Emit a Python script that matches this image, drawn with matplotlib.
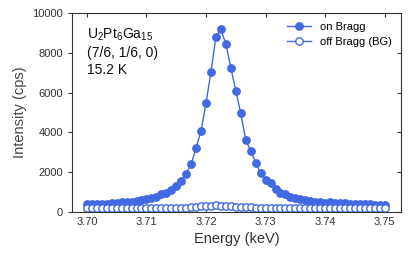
import numpy as np
import matplotlib.pyplot as plt

plt.rcParams['font.family'] = ['Liberation Sans', 'DejaVu Sans']
plt.rcParams['mathtext.default'] = 'regular'

# energy grid of the scan (keV), 61 points 3.70 -> 3.75
energy = np.linspace(3.70, 3.75, 61)

# on Bragg intensity (cps)
on_bragg = [420, 390, 400, 410, 420, 440, 460, 480, 500, 520,
            550, 590, 640, 700, 769, 889, 970, 1105, 1322, 1558,
            1925, 2397, 3231, 4070, 5462, 7050, 8810, 9180, 8442, 7250,
            6095, 4960, 3618, 3080, 2477, 1945, 1608, 1442, 1141, 970,
            889, 769, 719, 653, 603, 538, 503, 487, 470, 480,
            460, 440, 430, 420, 410, 400, 390, 380, 370, 370,
            360]

# off Bragg (background) intensity (cps)
off_bragg = [200, 190, 190, 190, 190, 190, 190, 190, 190, 190,
             190, 195, 195, 195, 195, 195, 200, 200, 200, 200,
             210, 230, 260, 290, 310, 320, 330, 320, 310, 290,
             270, 250, 240, 230, 220, 215, 210, 200, 200, 200,
             200, 200, 200, 200, 200, 200, 200, 200, 200, 200,
             200, 200, 200, 200, 200, 200, 200, 200, 200, 200,
             200]

blue = '#4169e1'
dark = '#333333'

fig = plt.figure(figsize=(4.09, 2.61), dpi=100)
ax = fig.add_axes([0.176, 0.188, 0.804, 0.762])

ax.plot(energy, on_bragg, color=blue, linewidth=1, marker='o', markersize=5.3,
        markerfacecolor=blue, markeredgecolor=blue, label='on Bragg')
ax.plot(energy, off_bragg, color=blue, linewidth=1, marker='o', markersize=5.3,
        markerfacecolor='white', markeredgecolor=blue, markeredgewidth=1,
        label='off Bragg (BG)')

ax.set_xlim(3.6975, 3.7527)
ax.set_ylim(0, 10000)
ax.set_xticks([3.70, 3.71, 3.72, 3.73, 3.74, 3.75])
ax.set_xticklabels(['3.70', '3.71', '3.72', '3.73', '3.74', '3.75'])
ax.set_yticks([0, 2000, 4000, 6000, 8000, 10000])

ax.tick_params(axis='both', labelsize=8, colors=dark, length=3, width=0.8)
ax.tick_params(axis='x', direction='in', top=True)
ax.tick_params(axis='y', direction='out', right=True)
for t in ax.yaxis.get_ticklines()[1::2]:
    t.set_marker(0)  # right ticks point inward
for s in ax.spines.values():
    s.set_color(dark)
    s.set_linewidth(0.8)

ax.set_xlabel('Energy (keV)', fontsize=10.5, color=dark)
ax.set_ylabel('Intensity (cps)', fontsize=10.5, color='#444444')

ax.text(0.045, 0.93, 'U$_2$Pt$_6$Ga$_{15}$\n(7/6, 1/6, 0)\n15.2 K',
        transform=ax.transAxes, fontsize=10, va='top', ha='left',
        linespacing=1.25, color='#111111')

ax.legend(loc='upper right', fontsize=8, frameon=False, handlelength=2.2,
          borderaxespad=0.4, labelspacing=0.45)

fig.savefig('out.png', dpi=100)
